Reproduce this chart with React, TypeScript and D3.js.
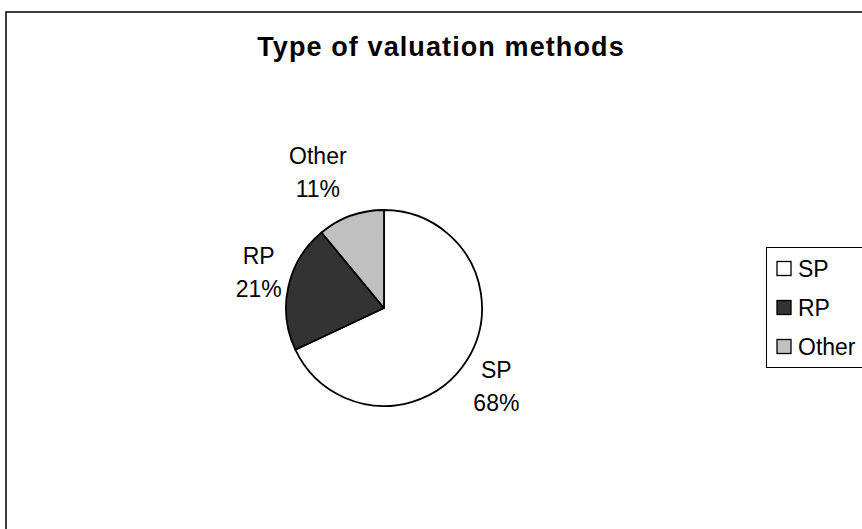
import React from 'react';
import * as d3 from 'd3';

const title = 'Type of valuation methods';
const categories = ['SP', 'RP', 'Other'];
const shares = [68, 21, 11];
const fills = ['#ffffff', '#333333', '#c0c0c0'];

// label placement (polar, around pie centre) - tweaked by eye like Excel's best fit
const labelAngleShift = [2.6, 3.4, -6.2];
const labelRadius = [1.4, 1.33, 1.54];

const width = 862;
const height = 529;
const cx = 384;
const cy = 308;
const radius = 98;
const font = '"Liberation Sans", Arial, sans-serif';

export default function App() {
    const pie = d3.pie<number>().sort(null).value(d => d);
    const arcs = pie(shares);
    const arc = d3.arc<d3.PieArcDatum<number>>().innerRadius(0).outerRadius(radius);

    const legendY = d3.scalePoint<string>().domain(categories).range([268.5, 346.5]);

    return (
        <svg width={width} height={height} style={{ position: 'absolute', left: 0, top: 0, fontFamily: font }}>
            <rect x={0} y={0} width={width} height={height} fill="#fff" />
            {/* chart area runs off the right and bottom edges */}
            <rect x={6} y={12} width={870} height={590} fill="none" stroke="#000" strokeWidth={1.5} />

            <text x={441} y={56} textAnchor="middle" fontSize={27} fontWeight="bold" letterSpacing={1.1}>{title}</text>

            <g transform={`translate(${cx},${cy})`}>
                {arcs.map((a, i) => (
                    <path key={categories[i]} d={arc(a) || ''} fill={fills[i]} stroke="#000" strokeWidth={1.8} strokeLinejoin="round" />
                ))}
                {arcs.map((a, i) => {
                    const mid = (a.startAngle + a.endAngle) / 2 + (labelAngleShift[i] * Math.PI) / 180;
                    const r = radius * labelRadius[i];
                    const x = Math.sin(mid) * r;
                    const y = -Math.cos(mid) * r;
                    return (
                        <text key={categories[i]} textAnchor="middle" fontSize={23}>
                            <tspan x={x} y={y - 8.5}>{categories[i]}</tspan>
                            <tspan x={x} y={y + 24.5}>{shares[i]}%</tspan>
                        </text>
                    );
                })}
            </g>

            <rect x={766.5} y={247.5} width={110} height={120} fill="#fff" stroke="#000" strokeWidth={1} />
            {categories.map((c, i) => {
                const y = legendY(c) || 0;
                return (
                    <g key={c}>
                        <rect x={777} y={y - 7} width={14} height={14} fill={fills[i]} stroke="#000" strokeWidth={1.3} />
                        <text x={798} y={y + 8.5} fontSize={23}>{c}</text>
                    </g>
                );
            })}
        </svg>
    );
}
